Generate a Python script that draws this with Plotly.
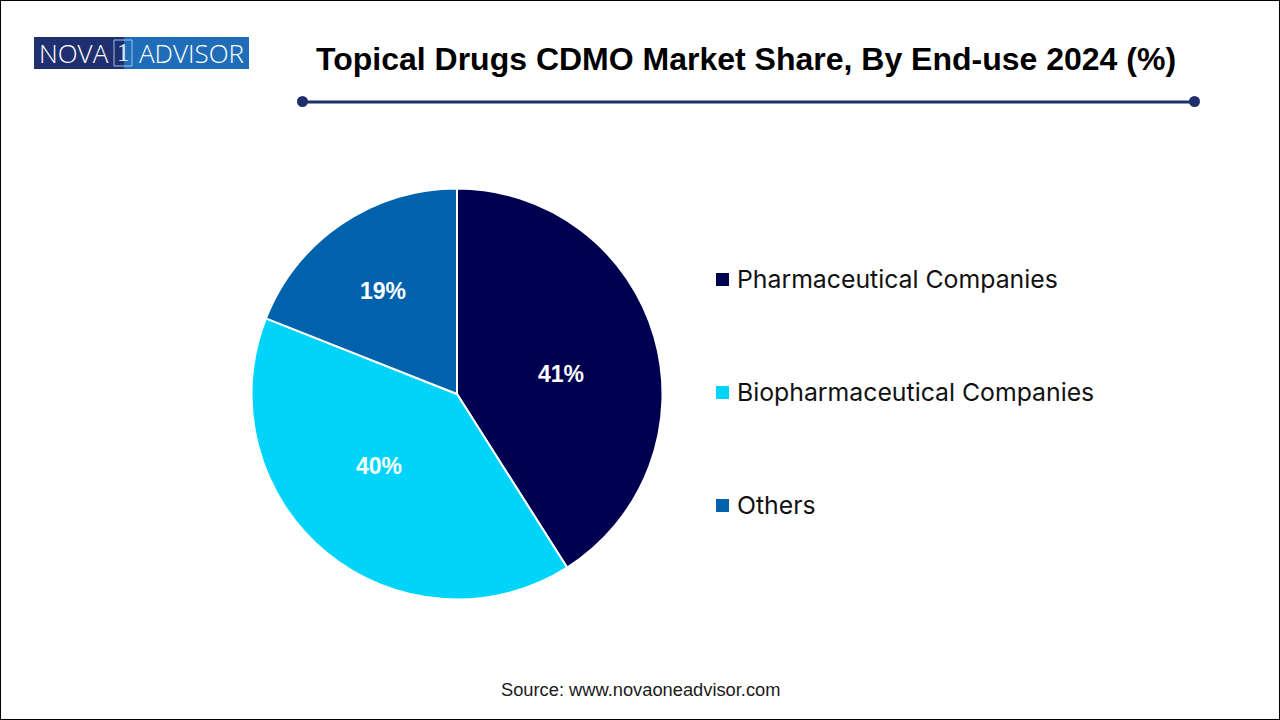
import plotly.graph_objects as go

# Donnees du graphique
categories = ["Pharmaceutical Companies", "Biopharmaceutical Companies", "Others"]
shares = [41, 40, 19]
colors = ["#000050", "#00D4FA", "#0062AC"]

title = "Topical Drugs CDMO Market Share, By End-use 2024 (%)"
source = "Source: www.novaoneadvisor.com"

# positions en pixels (haut gauche)
legend_rows = [279, 392, 505]
label_pos = [(561, 374), (379, 466), (383, 291)]

W, H = 1280, 720
NAVY = "#1F2F6E"


def px_x(x):
    return x / W


def px_y(y):
    return 1 - y / H


def note(text, x, y, font, xanchor="center"):
    return dict(text=text, x=px_x(x), y=px_y(y), xanchor=xanchor, yanchor="middle",
                showarrow=False, font=font)


fig = go.Figure()

fig.add_trace(go.Pie(
    labels=categories,
    values=shares,
    sort=False,
    direction="clockwise",
    rotation=0,
    marker=dict(colors=colors, line=dict(color="white", width=2)),
    textinfo="none",
    domain=dict(x=[px_x(251.5), px_x(662.5)], y=[px_y(599.5), px_y(188.5)]),
    showlegend=False,
    hoverinfo="label+percent",
))

shapes = [
    # cadre
    dict(type="rect", xref="paper", yref="paper", x0=0, x1=1, y0=0, y1=1,
         line=dict(color="black", width=2), fillcolor="rgba(0,0,0,0)"),
    # logo
    dict(type="rect", xref="paper", yref="paper", x0=px_x(34), x1=px_x(124), y0=px_y(69), y1=px_y(37),
         line=dict(width=0), fillcolor="#1F2F70"),
    dict(type="rect", xref="paper", yref="paper", x0=px_x(124), x1=px_x(249), y0=px_y(69), y1=px_y(37),
         line=dict(width=0), fillcolor="#1F6DB8"),
    dict(type="rect", xref="paper", yref="paper", x0=px_x(114), x1=px_x(132), y0=px_y(66), y1=px_y(40),
         line=dict(color="#9CC4E8", width=1), fillcolor="rgba(0,0,0,0)"),
    # filet sous le titre
    dict(type="line", xref="paper", yref="paper", x0=px_x(302), x1=px_x(1194), y0=px_y(102), y1=px_y(102),
         line=dict(color=NAVY, width=3)),
    dict(type="circle", xref="paper", yref="paper", x0=px_x(297), x1=px_x(308), y0=px_y(107), y1=px_y(96),
         line=dict(width=0), fillcolor=NAVY),
    dict(type="circle", xref="paper", yref="paper", x0=px_x(1189), x1=px_x(1200), y0=px_y(107), y1=px_y(96),
         line=dict(width=0), fillcolor=NAVY),
]

annotations = [
    note(title, 746, 59, dict(family="Liberation Sans", size=32, color="black", weight="bold")),
    note(source, 640, 689, dict(family="Liberation Sans", size=18.3, color="#1A1A1A")),
    note("NOVA", 74, 53, dict(family="Open Sans", size=26, color="white", weight=300)),
    note("1", 123, 53, dict(family="Liberation Serif", size=25, color="#DCEAF7")),
    note("ADVISOR", 191, 53, dict(family="Open Sans", size=26, color="white", weight=300)),
]

# pourcentages sur les parts
for value, (x, y) in zip(shares, label_pos):
    annotations.append(note(f"{value}%", x, y,
                            dict(family="Liberation Sans", size=23, color="white", weight="bold")))

# legende a droite du camembert
for name, color, row in zip(categories, colors, legend_rows):
    shapes.append(dict(type="rect", xref="paper", yref="paper",
                       x0=px_x(716), x1=px_x(729), y0=px_y(row + 7), y1=px_y(row - 6),
                       line=dict(width=0), fillcolor=color))
    annotations.append(note(name, 734.5, row,
                            dict(family="Inter", size=24.8, color="#111111"), xanchor="left"))

fig.update_layout(
    width=W,
    height=H,
    margin=dict(l=0, r=0, t=0, b=0),
    paper_bgcolor="white",
    shapes=shapes,
    annotations=annotations,
)

fig.write_html("out.html", config=dict(displayModeBar=False),
               post_script="document.body.style.margin='0';")
